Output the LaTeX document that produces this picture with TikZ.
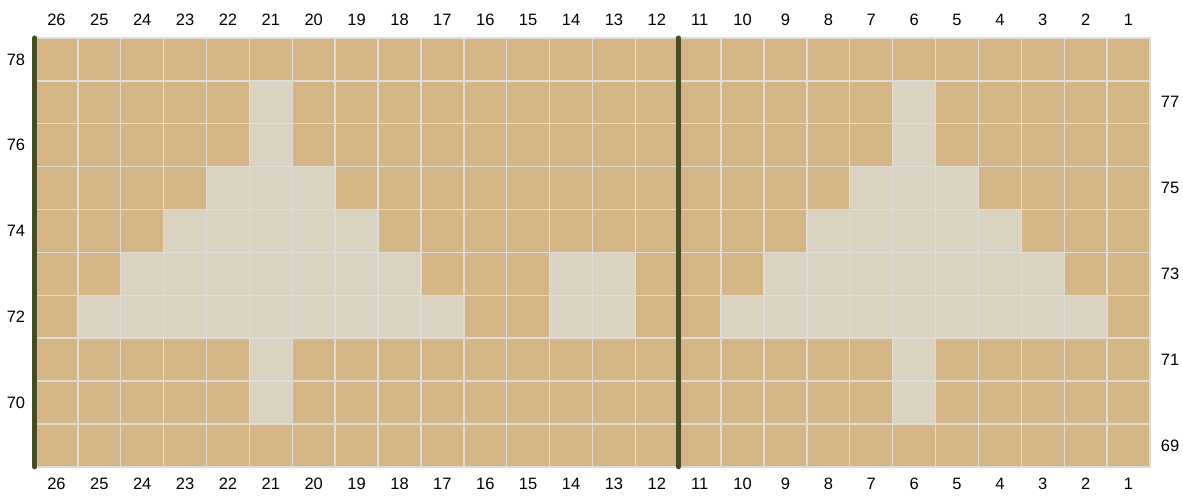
\documentclass[tikz,border=0pt]{standalone}
\usepackage{fontspec}
\setmainfont{Liberation Sans}
\definecolor{chartTan}{HTML}{D5B485}
\definecolor{chartPale}{HTML}{DBD3C1}
\definecolor{gridGray}{HTML}{DEDCD8}
\definecolor{ruleOlive}{HTML}{474D22}

\begin{document}
\begin{tikzpicture}[
  x=42.885pt, y=-42.885pt,
  pale/.style={fill=chartPale},
  gridline/.style={draw=gridGray, line width=1.4pt},
  rule/.style={draw=ruleOlive, line width=5pt, line cap=round},
  num/.style={font=\fontsize{16.5}{18}\selectfont, text=black, inner sep=0pt}
]
  \useasboundingbox (-0.816,-0.886) rectangle (26.770,10.843);

  % Grund
  \fill[chartTan] (0,0) rectangle (26,10);

  % helle Maschen
  \foreach \r in {1,2,7,8}
    \foreach \s in {6,21}
      \fill[pale] ({26-\s},\r) rectangle ++(1,1);
  \foreach \s in {5,6,7,20,21,22}
    \fill[pale] ({26-\s},3) rectangle ++(1,1);
  \foreach \s in {4,5,6,7,8,19,20,21,22,23}
    \fill[pale] ({26-\s},4) rectangle ++(1,1);
  \foreach \s in {3,4,5,6,7,8,9,13,14,18,19,20,21,22,23,24}
    \fill[pale] ({26-\s},5) rectangle ++(1,1);
  \foreach \s in {2,3,4,5,6,7,8,9,10,13,14,17,18,19,20,21,22,23,24,25}
    \fill[pale] ({26-\s},6) rectangle ++(1,1);

  % Gitter
  \foreach \c in {1,...,25}
    \draw[gridline] (\c,0) -- (\c,10);
  \foreach \r in {1,...,9}
    \draw[gridline] (0,\r) -- (26,\r);
  \draw[gridline] (0,0) rectangle (26,10);

  % Randlinien
  \coordinate (edgeTop) at (0,0);
  \coordinate (edgeBot) at (0,10);
  \coordinate (splitTop) at (15,0);
  \coordinate (splitBot) at (15,10);
  \draw[rule] (edgeTop) -- (edgeBot);
  \draw[rule] (splitTop) -- (splitBot);

  % Maschennummern
  \foreach \s in {1,...,26} {
    \node[num] (top\s) at ({26.5-\s},-0.42) {\s};
    \node[num] (bot\s) at ({26.5-\s},10.40) {\s};
  }

  % Reihennummern
  \foreach \r in {0,2,...,8} {
    \pgfmathtruncatemacro\rownum{78-\r}
    \node[num] (row\rownum) at (-0.443,\r+0.5) {\rownum};
  }
  \foreach \r in {1,3,...,9} {
    \pgfmathtruncatemacro\rownum{78-\r}
    \node[num] (row\rownum) at (26.47,\r+0.5) {\rownum};
  }
\end{tikzpicture}
\end{document}
